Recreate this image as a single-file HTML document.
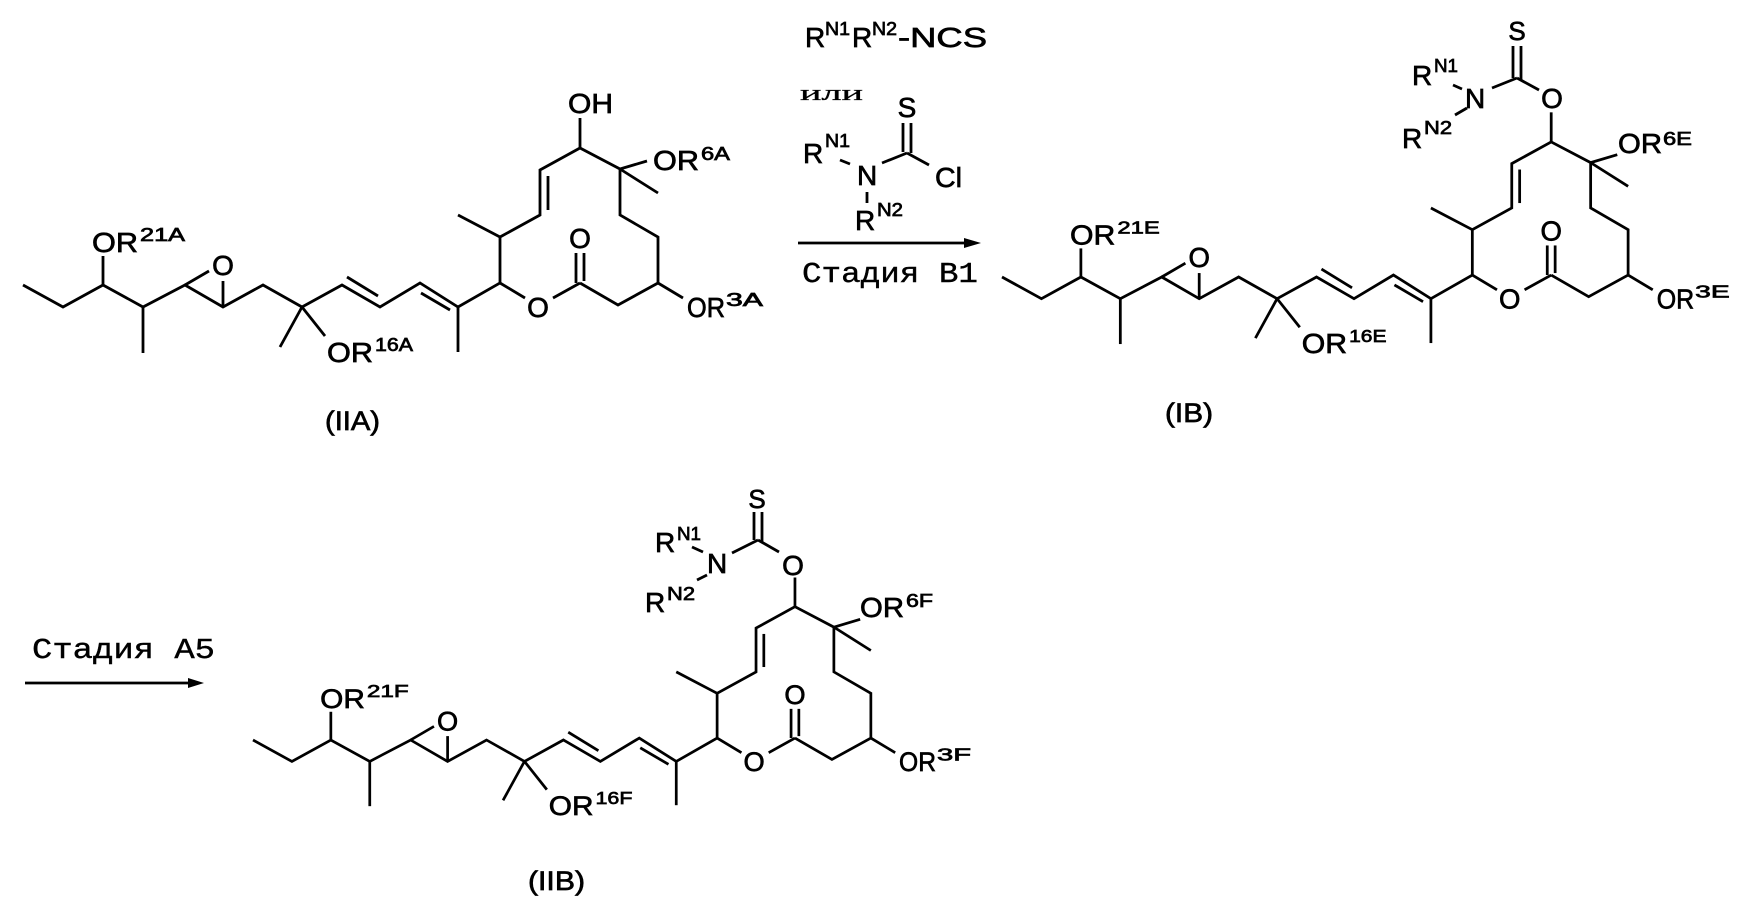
<!DOCTYPE html>
<html><head><meta charset="utf-8"><style>
html,body{margin:0;padding:0;background:#fff;}
svg{display:block;}
text{font-family:"Liberation Sans",Arial,sans-serif;fill:#000;stroke:#000;stroke-width:0.7px;}
</style></head><body>
<svg width="1743" height="910" viewBox="0 0 1743 910" xmlns="http://www.w3.org/2000/svg">
<defs>
<g id="skel" fill="none" stroke="#000" stroke-width="2.8" stroke-linejoin="miter" stroke-linecap="butt">
<polyline points="23,285 63,307 103,285 143,307 185,285 223,307 263,285 302,307 342,285 380,307 420,283 458,307 500,283 500,237 540,215 540,170 580,148 620,169 620,215 658,237 658,283 618,305 580,283"/>
<line x1="103" y1="285" x2="103" y2="256"/>
<line x1="143" y1="307" x2="143" y2="353"/>
<line x1="185" y1="285" x2="209" y2="271"/>
<line x1="223" y1="307" x2="223" y2="281"/>
<line x1="302" y1="307" x2="280" y2="347"/>
<line x1="302" y1="307" x2="325" y2="336"/>
<line x1="347" y1="277" x2="378" y2="296"/>
<line x1="421" y1="293" x2="450" y2="310"/>
<line x1="458" y1="307" x2="458" y2="352"/>
<line x1="500" y1="237" x2="458" y2="215"/>
<line x1="548" y1="176" x2="548" y2="210"/>
<line x1="580" y1="148" x2="580" y2="118"/>
<line x1="620" y1="169" x2="647" y2="161"/>
<line x1="620" y1="169" x2="658" y2="193"/>
<line x1="658" y1="283" x2="683" y2="298"/>
<line x1="500" y1="283" x2="525" y2="298"/>
<line x1="580" y1="283" x2="553" y2="298"/>
<line x1="576" y1="283" x2="576" y2="253"/>
<line x1="584" y1="281" x2="584" y2="253"/>
</g>
</defs>

<!-- IIA -->
<g>
<use href="#skel"/>
<text x="92" y="252" font-size="28" textLength="46" lengthAdjust="spacingAndGlyphs">OR</text>
<text x="140" y="241" font-size="18" textLength="45" lengthAdjust="spacingAndGlyphs">21A</text>
<text x="223" y="275" font-size="28" text-anchor="middle">O</text>
<text x="327" y="362" font-size="28" textLength="46" lengthAdjust="spacingAndGlyphs">OR</text>
<text x="375" y="351" font-size="18" textLength="38" lengthAdjust="spacingAndGlyphs">16A</text>
<text x="580" y="248" font-size="28" text-anchor="middle">O</text>
<text x="538" y="317" font-size="28" text-anchor="middle">O</text>
<text x="687" y="317" font-size="28" textLength="38" lengthAdjust="spacingAndGlyphs">OR</text>
<text x="726" y="306" font-size="18" textLength="37" lengthAdjust="spacingAndGlyphs">3A</text>
<text x="653" y="170" font-size="28" textLength="46" lengthAdjust="spacingAndGlyphs">OR</text>
<text x="701" y="160" font-size="18" textLength="29" lengthAdjust="spacingAndGlyphs">6A</text>
<text x="568" y="113" font-size="28" textLength="45" lengthAdjust="spacingAndGlyphs">OH</text>
<text x="325" y="430" font-size="27" textLength="55" lengthAdjust="spacingAndGlyphs">(IIA)</text>
</g>

<!-- Reagents -->
<text x="805" y="47" font-size="28">R</text>
<text x="825" y="35" font-size="18" textLength="25" lengthAdjust="spacingAndGlyphs">N1</text>
<text x="852" y="47" font-size="28">R</text>
<text x="872" y="35" font-size="18" textLength="25" lengthAdjust="spacingAndGlyphs">N2</text>
<text x="898" y="47" font-size="28" textLength="89" lengthAdjust="spacingAndGlyphs">-NCS</text>
<text x="800" y="100" font-size="22" textLength="63" lengthAdjust="spacingAndGlyphs" style="font-family:'Liberation Serif',serif;stroke-width:0.3px">или</text>
<g stroke="#000" stroke-width="2.8" fill="none">
<line x1="903" y1="123" x2="903" y2="152"/>
<line x1="911" y1="123" x2="911" y2="153"/>
<line x1="907" y1="153" x2="929" y2="165"/>
<line x1="907" y1="153" x2="882" y2="163"/>
<line x1="840" y1="160" x2="850" y2="164"/>
<line x1="867" y1="192" x2="867" y2="203"/>
<line x1="798" y1="243" x2="970" y2="243"/>
</g>
<polygon points="964,238 981,243 964,248" fill="#000"/>
<text x="907" y="117" font-size="28" text-anchor="middle">S</text>
<text x="935" y="187" font-size="28" textLength="27" lengthAdjust="spacingAndGlyphs">Cl</text>
<text x="857" y="185" font-size="28">N</text>
<text x="803" y="163" font-size="28">R</text>
<text x="825" y="147" font-size="18" textLength="25" lengthAdjust="spacingAndGlyphs">N1</text>
<text x="855" y="230" font-size="28">R</text>
<text x="877" y="216" font-size="18" textLength="26" lengthAdjust="spacingAndGlyphs">N2</text>
<text x="802" y="282" font-size="29" textLength="176" lengthAdjust="spacingAndGlyphs" style="font-family:'Liberation Mono',monospace;stroke-width:0.4px">Стадия В1</text>

<!-- IB -->
<g transform="translate(1002,277) scale(0.986) translate(-23,-285)">
<use href="#skel"/>
<text x="92" y="252" font-size="28" textLength="46" lengthAdjust="spacingAndGlyphs">OR</text>
<text x="140" y="241" font-size="18" textLength="43" lengthAdjust="spacingAndGlyphs">21E</text>
<text x="223" y="275" font-size="28" text-anchor="middle">O</text>
<text x="327" y="362" font-size="28" textLength="46" lengthAdjust="spacingAndGlyphs">OR</text>
<text x="375" y="351" font-size="18" textLength="38" lengthAdjust="spacingAndGlyphs">16E</text>
<text x="580" y="248" font-size="28" text-anchor="middle">O</text>
<text x="538" y="317" font-size="28" text-anchor="middle">O</text>
<text x="687" y="317" font-size="28" textLength="38" lengthAdjust="spacingAndGlyphs">OR</text>
<text x="726" y="306" font-size="18" textLength="35" lengthAdjust="spacingAndGlyphs">3E</text>
</g>
<g stroke="#000" stroke-width="2.8" fill="none">
<line x1="1513" y1="46" x2="1513" y2="78"/>
<line x1="1521" y1="46" x2="1521" y2="80"/>
<line x1="1517" y1="78" x2="1539" y2="90"/>
<line x1="1517" y1="78" x2="1492" y2="88"/>
<line x1="1453" y1="85" x2="1462" y2="89"/>
<line x1="1455" y1="115" x2="1467" y2="108"/>
</g>
<text x="1552" y="108" font-size="28" text-anchor="middle">O</text>
<text x="1517" y="40" font-size="26" text-anchor="middle">S</text>
<text x="1465" y="108" font-size="28">N</text>
<text x="1412" y="85" font-size="28">R</text>
<text x="1434" y="72" font-size="18" textLength="24" lengthAdjust="spacingAndGlyphs">N1</text>
<text x="1402" y="148" font-size="28">R</text>
<text x="1424" y="134" font-size="18" textLength="28" lengthAdjust="spacingAndGlyphs">N2</text>
<text x="1618" y="153" font-size="28" textLength="44" lengthAdjust="spacingAndGlyphs">OR</text>
<text x="1663" y="145" font-size="18" textLength="29" lengthAdjust="spacingAndGlyphs">6E</text>
<text x="1165" y="422" font-size="27" textLength="48" lengthAdjust="spacingAndGlyphs">(IB)</text>

<!-- Stage A5 -->
<text x="32" y="658" font-size="29" textLength="183" lengthAdjust="spacingAndGlyphs" style="font-family:'Liberation Mono',monospace;stroke-width:0.4px">Стадия A5</text>
<line x1="25" y1="683" x2="196" y2="683" stroke="#000" stroke-width="2.8"/>
<polygon points="188,678 204,683 188,688" fill="#000"/>

<!-- IIB -->
<g transform="translate(253,740) scale(0.973) translate(-23,-285)">
<use href="#skel"/>
<text x="92" y="252" font-size="28" textLength="46" lengthAdjust="spacingAndGlyphs">OR</text>
<text x="140" y="241" font-size="18" textLength="43" lengthAdjust="spacingAndGlyphs">21F</text>
<text x="223" y="275" font-size="28" text-anchor="middle">O</text>
<text x="327" y="362" font-size="28" textLength="46" lengthAdjust="spacingAndGlyphs">OR</text>
<text x="375" y="351" font-size="18" textLength="38" lengthAdjust="spacingAndGlyphs">16F</text>
<text x="580" y="248" font-size="28" text-anchor="middle">O</text>
<text x="538" y="317" font-size="28" text-anchor="middle">O</text>
<text x="687" y="317" font-size="28" textLength="38" lengthAdjust="spacingAndGlyphs">OR</text>
<text x="726" y="306" font-size="18" textLength="35" lengthAdjust="spacingAndGlyphs">3F</text>
</g>
<g stroke="#000" stroke-width="2.8" fill="none">
<line x1="754" y1="512" x2="754" y2="540"/>
<line x1="762" y1="512" x2="762" y2="542"/>
<line x1="758" y1="540" x2="779" y2="552"/>
<line x1="758" y1="540" x2="732" y2="553"/>
<line x1="692" y1="547" x2="703" y2="552"/>
<line x1="697" y1="580" x2="707" y2="575"/>
</g>
<text x="793" y="575" font-size="28" text-anchor="middle">O</text>
<text x="757" y="508" font-size="26" text-anchor="middle">S</text>
<text x="707" y="573" font-size="28">N</text>
<text x="655" y="552" font-size="28">R</text>
<text x="677" y="540" font-size="18" textLength="24" lengthAdjust="spacingAndGlyphs">N1</text>
<text x="645" y="612" font-size="28">R</text>
<text x="667" y="600" font-size="18" textLength="28" lengthAdjust="spacingAndGlyphs">N2</text>
<text x="860" y="617" font-size="28" textLength="44" lengthAdjust="spacingAndGlyphs">OR</text>
<text x="906" y="607" font-size="18" textLength="27" lengthAdjust="spacingAndGlyphs">6F</text>
<text x="528" y="890" font-size="27" textLength="57" lengthAdjust="spacingAndGlyphs">(IIB)</text>
</svg>
</body></html>
